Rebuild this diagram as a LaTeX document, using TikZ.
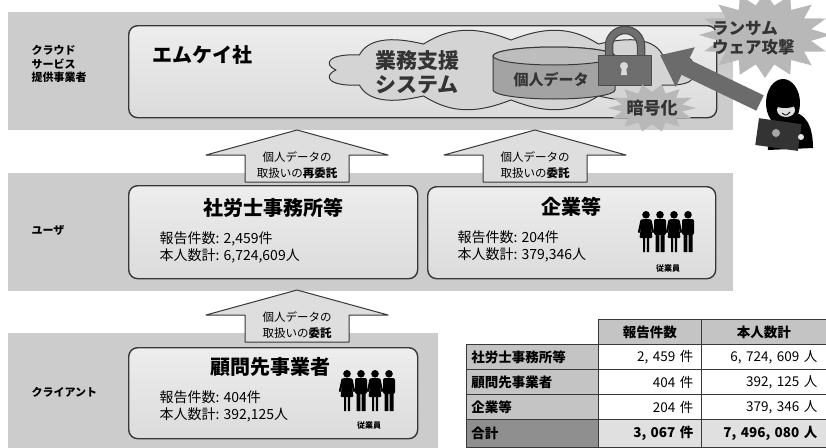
\documentclass[tikz,border=0pt]{standalone}
\usepackage{fontspec}
\setmainfont{Noto Sans CJK JP}
\usetikzlibrary{positioning,arrows.meta}

\definecolor{bandgray}{gray}{0.8}
\definecolor{boxtop}{gray}{0.93}
\definecolor{boxbot}{gray}{0.86}
\definecolor{edgegray}{gray}{0.22}
\definecolor{cloudgray}{gray}{0.83}
\definecolor{dbside}{gray}{0.64}
\definecolor{dbtop}{gray}{0.74}
\definecolor{lockgray}{gray}{0.43}
\definecolor{burstgray}{gray}{0.72}
\definecolor{attackgray}{gray}{0.42}
\definecolor{handfill}{gray}{0.87}
\definecolor{labelgray}{gray}{0.77}
\definecolor{sumgray}{gray}{0.56}
\definecolor{sumcell}{gray}{0.88}
\definecolor{inkgray}{gray}{0.2}

\newcommand\sz[2]{\fontsize{#1}{#2}\selectfont}

\tikzset{
  band/.style={fill=bandgray, anchor=north west, inner sep=0pt},
  orgbox/.style={draw=edgegray, line width=1.4pt, rounded corners=9pt,
    top color=boxtop, bottom color=boxbot, anchor=north west, inner sep=0pt},
  tier/.style={anchor=west, align=left, font=\bfseries\sz{11}{13.5}},
  orgname/.style={font=\bfseries\sz{20}{22}},
  counts/.style={anchor=west, align=left, font=\sz{14}{17}},
  handover/.style={draw=edgegray, line width=1pt, fill=handfill},
  handtext/.style={align=center, font=\sz{11.5}{15.5}, inner sep=0pt},
  staffnote/.style={font=\bfseries\sz{8}{9}},
  tabcell/.style={draw=edgegray, line width=0.8pt, anchor=north west,
    minimum height=25pt, inner ysep=0pt, font=\sz{13.5}{15}},
  tabhead/.style={tabcell, fill=labelgray, minimum width=#1, font=\bfseries\sz{13.5}{15}},
  tablabel/.style={tabcell, fill=labelgray, text width=122pt, inner xsep=5pt,
    align=left, font=\bfseries\sz{13.5}{15}},
  tabnum/.style={tabcell, fill=white, text width=#1, inner xsep=8pt, align=right},
  burst/.style={fill=burstgray},
  pics/staff/.style={code={
    \foreach \i/\dress in {0/1,1/0,2/1,3/0}{
      \pgfmathsetmacro\cx{7+14*\i}
      \fill (\cx,3.8) circle (3.8pt);
      \ifnum\dress=1
        \fill[rounded corners=1pt] (\cx-4,8) -- (\cx+4,8) -- (\cx+6.5,27) -- (\cx-6.5,27) -- cycle;
        \draw[line width=2.2pt, line cap=round] (\cx-4.5,9.5) -- (\cx-7,21) (\cx+4.5,9.5) -- (\cx+7,21);
        \fill (\cx-3,26) rectangle (\cx-0.8,41) (\cx+0.8,26) rectangle (\cx+3,41);
      \else
        \fill[rounded corners=2pt] (\cx-6,8) rectangle (\cx+6,24);
        \fill (\cx-4.5,23) rectangle (\cx-0.7,41) (\cx+0.7,23) rectangle (\cx+4.5,41);
      \fi
    }
  }}
}

\begin{document}
\begin{tikzpicture}[x=1pt,y=-1pt,line join=round,>=latex]
\useasboundingbox[fill=white] (0,0) rectangle (826,447);

% three tiers
\node[band, minimum width=725pt, minimum height=118pt] (cloudband) at (8,12) {};
\node[band, minimum width=725pt, minimum height=118pt] (userband) at (8,173) {};
\node[band, minimum width=430pt, minimum height=120pt] (clientband) at (8,333) {};

\node[tier] (tiercloud) at (28,64) {クラウド\\サービス\\提供事業者};
\node[tier] (tieruser) at (28,230) {ユーザ};
\node[tier] (tierclient) at (28,392) {クライアント};

% service provider
\node[orgbox, minimum width=588pt, minimum height=92pt] (mk) at (128,25) {};
\node[orgname, anchor=west] (mkname) at (149,55) {エムケイ社};

% cloud outline: an ellipse with scalloped puffs
\coordinate (sys) at (511,70);
\filldraw[draw=edgegray, fill=cloudgray, line width=1pt, shift={(sys)}]
  plot[domain=0:360, samples=241, variable=\t]
  ({(175+11*abs(sin(6*\t)))*cos(\t)}, {(30+11*abs(sin(6*\t)))*sin(\t)}) -- cycle;
\node[font=\bfseries\sz{21}{24}, align=center, text=inkgray] (systext) at (417,72) {業務支援\\システム};

% database
\filldraw[draw=edgegray, line width=1pt, fill=dbside] (493,56) -- (493,90) arc (180:360:61pt and 9pt)
  -- (615,56) arc (0:180:61pt and 9pt) -- cycle;
\filldraw[draw=edgegray, line width=1pt, fill=dbtop] (554,56) ellipse (61pt and 9pt);
\node[font=\bfseries\sz{15}{17}, text=inkgray] (pdata) at (551,80) {個人データ};

% padlock
\draw[black!70, line width=8.5pt] (609,57) -- (609,46) arc (180:0:16pt) -- (641,57);
\draw[lockgray, line width=6pt] (609,57) -- (609,46) arc (180:0:16pt) -- (641,57);
\filldraw[draw=black!70, fill=lockgray, line width=1pt] (598,55) rectangle (651,85);
\fill[black!15] (624,66) circle (4pt);
\fill[black!15] (622,66) -- (626,66) -- (627,75) -- (621,75) -- cycle;

% bursts
\coordinate (enc) at (652,108);
\fill[burst, shift={(enc)}] plot[samples at={0,...,27}, variable=\k]
  ({ifthenelse(mod(\k,2)==0,44,31)*cos(\k*360/28)}, {ifthenelse(mod(\k,2)==0,24,16)*sin(\k*360/28)}) -- cycle;
\node[font=\bfseries\sz{17}{19}, text=inkgray] (enctext) at (enc) {暗号化};

\coordinate (ransom) at (765,35);
\fill[burst, shift={(ransom)}] plot[samples at={0,...,31}, variable=\k]
  ({ifthenelse(mod(\k,2)==0,66,47)*cos(\k*360/32)}, {ifthenelse(mod(\k,2)==0,43,30)*sin(\k*360/32)}) -- cycle;
\node[font=\bfseries\sz{16.5}{19}, text=inkgray, align=left, anchor=west, inner sep=0pt] (ransomtext) at (712,38) {ランサム\\ウェア攻撃};

% attacker
\coordinate (attackfrom) at (760,103);
\draw[attackgray, line width=17pt, -{Triangle[width=42pt,length=28pt]}] (attackfrom) -- (660,55);

\fill[black] (768,150) .. controls (766,125) and (775,112) .. (790,112)
  .. controls (805,112) and (813,125) .. (813,148) -- cycle;
\fill[black] (783,103) ellipse (17pt and 24pt);
\fill[gray!25] (786,110) ellipse (9pt and 7pt);
\fill[black] (785,104) ellipse (11pt and 4pt);
\draw[black, line width=0.8pt] (782,113) .. controls (786,116) .. (790,112);
\fill[black!80, rotate around={-8:(778,134)}] (757,121) rectangle (800,148);
\fill[gray!70] (776,133) circle (4pt);
\fill[gray!20] (801,137) circle (3pt);

% users and client
\node[orgbox, minimum width=289pt, minimum height=93pt] (sr) at (128,185) {};
\node[orgbox, minimum width=288pt, minimum height=92pt] (corp) at (427,186) {};
\node[orgbox, minimum width=289pt, minimum height=91pt] (adv) at (128,347) {};

\node[orgname] (srname) at ([yshift=-23pt]sr.north) {社労士事務所等};
\node[orgname] (corpname) at ([yshift=-21pt]corp.north) {企業等};
\node[orgname] (advname) at ([xshift=-3pt,yshift=-20pt]adv.north) {顧問先事業者};

\node[counts] (srcounts) at ([xshift=28pt,yshift=-62pt]sr.north west) {報告件数: 2,459件\\本人数計: 6,724,609人};
\node[counts] (corpcounts) at ([xshift=27pt,yshift=-60pt]corp.north west) {報告件数: 204件\\本人数計: 379,346人};
\node[counts] (advcounts) at ([xshift=28pt,yshift=-59pt]adv.north west) {報告件数: 404件\\本人数計: 392,125人};

\pic at (639,211) {staff};
\node[staffnote] (corpstaff) at (668,268) {従業員};
\pic at (340,370) {staff};
\node[staffnote] (advstaff) at (369,425) {従業員};

% entrustment arrows
\foreach \tx/\ty/\name/\txt in {297/130/resub/{個人データの\\取扱いの\textbf{再委託}},
    535/130/sub/{個人データの\\取扱いの\textbf{委託}},
    297/290/clientsub/{個人データの\\取扱いの\textbf{委託}}}{
  \filldraw[handover] (\tx,\ty) -- ++(91,25) -- ++(-39,0) -- ++(0,27) -- ++(-104,0)
    -- ++(0,-27) -- ++(-39,0) -- cycle;
  \node[handtext] (\name) at (\tx,\ty+35) {\txt};
}

% totals
\node[tabhead=103pt] (h1) at (598,319) {報告件数};
\node[tabhead=125pt] (h2) at (701,319) {本人数計};
\foreach \r/\lab/\cnt/\ppl in {0/社労士事務所等/{2, 459 件}/{6, 724, 609 人},
    1/顧問先事業者/{404 件}/{392, 125 人}, 2/企業等/{204 件}/{379, 346 人}}{
  \node[tablabel] (l\r) at (466,344+25*\r) {\lab};
  \node[tabnum=87pt] (c\r) at (598,344+25*\r) {\cnt};
  \node[tabnum=107pt, inner xsep=9pt] (p\r) at (701,344+25*\r) {\ppl};
}
\node[tablabel, fill=sumgray, minimum height=28pt] (lsum) at (466,419) {合計};
\node[tabnum=87pt, fill=sumcell, minimum height=28pt, font=\bfseries\sz{13.5}{15}] (csum) at (598,419) {3, 067 件};
\node[tabnum=107pt, inner xsep=9pt, fill=sumcell, minimum height=28pt, font=\bfseries\sz{13.5}{15}] (psum) at (701,419) {7, 496, 080 人};
\end{tikzpicture}
\end{document}
